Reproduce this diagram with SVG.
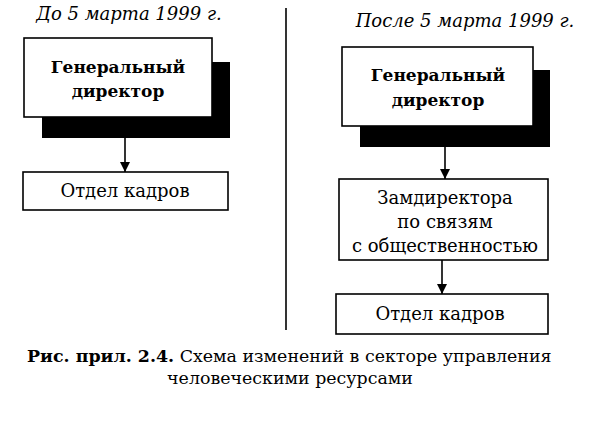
<svg xmlns="http://www.w3.org/2000/svg" width="596" height="429" viewBox="0 0 596 429">
<style>
.box{fill:#fff;stroke:#000;stroke-width:1.6}
.shadow{fill:#000}
.t{font-family:"DejaVu Serif","Liberation Serif",serif;font-size:18px;fill:#000;text-anchor:middle}
.b{font-weight:bold;font-size:17px}
.title{font-family:"DejaVu Serif","Liberation Serif",serif;font-style:italic;font-size:18px;fill:#000;text-anchor:middle}
.cap{font-family:"DejaVu Serif","Liberation Serif",serif;font-size:17.4px;fill:#000}
.conn{stroke:#000;stroke-width:1.6;fill:none}
</style>
<defs>
<marker id="ah" viewBox="0 0 10 10" refX="10" refY="5" markerWidth="10" markerHeight="10" markerUnits="userSpaceOnUse" orient="auto">
<path d="M0,0 L10,5 L0,10 Z" fill="#000"/>
</marker>
</defs>
<rect width="596" height="429" fill="#fff"/>
<text class="title" x="129" y="20">До 5 марта 1999 г.</text>
<text class="title" x="465" y="27">После 5 марта 1999 г.</text>
<line x1="286" y1="8" x2="286" y2="330" stroke="#000" stroke-width="1.6"/>
<g id="gd-left">
<rect class="shadow" x="42" y="62" width="188" height="76"/>
<rect class="box" x="24" y="38" width="188" height="79"/>
<text class="t b" x="118" y="73">Генеральный</text>
<text class="t b" x="118" y="97">директор</text>
</g>
<g id="hr-left">
<rect class="box" x="23" y="172" width="205" height="38"/>
<text class="t" x="125" y="197">Отдел кадров</text>
</g>
<g id="gd-right">
<rect class="shadow" x="360" y="70" width="190" height="77"/>
<rect class="box" x="342" y="47" width="191" height="79"/>
<text class="t b" x="438" y="81">Генеральный</text>
<text class="t b" x="438" y="106">директор</text>
</g>
<g id="deputy-right">
<rect class="box" x="339" y="179" width="209" height="81"/>
<text class="t" x="445" y="204">Замдиректора</text>
<text class="t" x="445" y="228">по связям</text>
<text class="t" x="445" y="252">с общественностью</text>
</g>
<g id="hr-right">
<rect class="box" x="336" y="294" width="212" height="40"/>
<text class="t" x="440" y="320">Отдел кадров</text>
</g>
<g id="connectors">
<line class="conn" x1="125" y1="138" x2="125" y2="172" marker-end="url(#ah)"/>
<line class="conn" x1="445" y1="147" x2="445" y2="179" marker-end="url(#ah)"/>
<line class="conn" x1="442" y1="260" x2="442" y2="294" marker-end="url(#ah)"/>
</g>
<text class="cap" x="27" y="362"><tspan font-weight="bold">Рис. прил. 2.4.</tspan> Схема изменений в секторе управления</text>
<text class="cap" x="290" y="384" text-anchor="middle">человеческими ресурсами</text>
</svg>
